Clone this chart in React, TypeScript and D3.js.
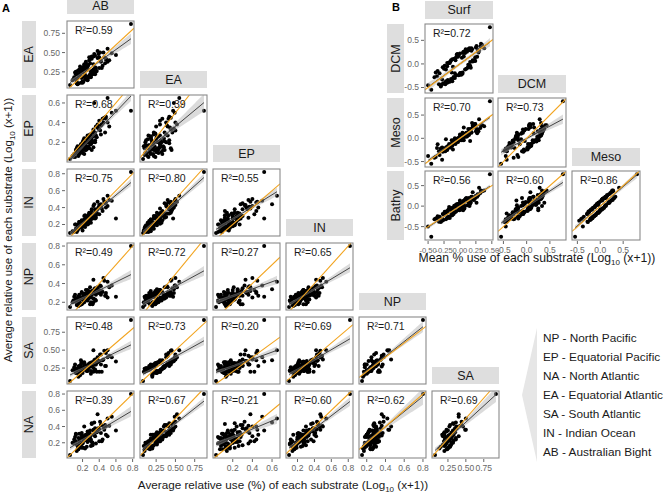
import * as React from 'react';
import * as d3 from 'd3';

// substrate use per ocean region (Log10(x+1)), one value per substrate
const AB = [0.78, 0.05, 0.12, 0.15, 0.18, 0.2, 0.22, 0.25, 0.28, 0.3,
  0.33, 0.35, 0.38, 0.4, 0.42, 0.45, 0.48, 0.5, 0.52, 0.55,
  0.1, 0.13, 0.16, 0.19, 0.21, 0.24, 0.27, 0.29, 0.32, 0.34,
  0.37, 0.39, 0.44, 0.47, 0.11, 0.14, 0.17, 0.2, 0.23, 0.26,
  0.31, 0.36, 0.41, 0.46, 0.08, 0.12, 0.18, 0.22, 0.25, 0.28,
  0.3, 0.33, 0.24, 0.19, 0.15, 0.27, 0.35, 0.43, 0.5, 0.09,
  0.21, 0.26, 0.32, 0.38, 0.16, 0.23, 0.29, 0.31, 0.2, 0.14,
  0.34, 0.6, 0.12, 0.17, 0.22, 0.26, 0.3, 0.15, 0.19, 0.24,
  0.28, 0.33, 0.13, 0.18, 0.21, 0.25, 0.29, 0.36, 0.4, 0.16,
  0.2, 0.23, 0.27, 0.31, 0.35, 0.42, 0.14, 0.22, 0.26, 0.48];
const EA = [0.87, 0.08, 0.22, 0.1, 0.3, 0.12, 0.35, 0.16, 0.4, 0.2,
  0.45, 0.22, 0.52, 0.3, 0.38, 0.5, 0.42, 0.55, 0.4, 0.49,
  0.18, 0.1, 0.26, 0.3, 0.12, 0.36, 0.18, 0.42, 0.22, 0.48,
  0.26, 0.48, 0.33, 0.36, 0.24, 0.09, 0.32, 0.11, 0.34, 0.15,
  0.42, 0.25, 0.5, 0.44, 0.14, 0.25, 0.11, 0.33, 0.18, 0.44,
  0.18, 0.35, 0.38, 0.27, 0.2, 0.19, 0.46, 0.3, 0.38, 0.15,
  0.31, 0.14, 0.26, 0.43, 0.28, 0.15, 0.22, 0.45, 0.12, 0.26,
  0.24, 0.47, 0.16, 0.2, 0.28, 0.32, 0.25, 0.22, 0.17, 0.3,
  0.2, 0.28, 0.12, 0.24, 0.19, 0.27, 0.36, 0.3, 0.44, 0.21,
  0.25, 0.21, 0.34, 0.26, 0.31, 0.39, 0.17, 0.23, 0.29, 0.41];
const EP = [0.52, 0.03, 0.12, 0.07, 0.18, 0.09, 0.24, 0.13, 0.27, 0.18,
  0.33, 0.2, 0.38, 0.42, 0.28, 0.4, 0.46, 0.65, 0.36, 0.5,
  0.08, 0.14, 0.1, 0.16, 0.22, 0.12, 0.25, 0.19, 0.3, 0.6,
  0.25, 0.34, 0.44, 0.3, 0.05, 0.16, 0.1, 0.2, 0.12, 0.27,
  0.22, 0.36, 0.32, 0.45, 0.06, 0.1, 0.17, 0.08, 0.24, 0.14,
  0.26, 0.15, 0.2, 0.11, 0.13, 0.22, 0.3, 0.38, 0.4, 0.05,
  0.16, 0.23, 0.2, 0.35, 0.09, 0.17, 0.28, 0.12, 0.15, 0.11,
  0.29, 0.52, 0.1, 0.14, 0.13, 0.2, 0.23, 0.06, 0.17, 0.15,
  0.2, 0.26, 0.09, 0.12, 0.18, 0.14, 0.21, 0.27, 0.33, 0.08,
  0.12, 0.19, 0.16, 0.25, 0.22, 0.37, 0.1, 0.16, 0.2, 0.44];
const IN = [0.82, 0.1, 0.15, 0.16, 0.22, 0.13, 0.3, 0.24, 0.33, 0.22,
  0.42, 0.27, 0.47, 0.32, 0.44, 0.5, 0.4, 0.54, 0.49, 0.48,
  0.12, 0.14, 0.23, 0.21, 0.19, 0.28, 0.26, 0.33, 0.3, 0.44,
  0.34, 0.4, 0.36, 0.45, 0.2, 0.13, 0.22, 0.18, 0.31, 0.2,
  0.38, 0.28, 0.43, 0.47, 0.12, 0.2, 0.17, 0.25, 0.24, 0.34,
  0.26, 0.31, 0.29, 0.25, 0.15, 0.21, 0.38, 0.39, 0.42, 0.11,
  0.24, 0.22, 0.27, 0.38, 0.23, 0.17, 0.27, 0.36, 0.18, 0.19,
  0.3, 0.27, 0.14, 0.17, 0.26, 0.3, 0.28, 0.2, 0.16, 0.27,
  0.23, 0.32, 0.11, 0.21, 0.2, 0.24, 0.33, 0.31, 0.43, 0.18,
  0.22, 0.2, 0.31, 0.28, 0.34, 0.41, 0.16, 0.21, 0.27, 0.46];
const NP = [0.8, 0.15, 0.2, 0.26, 0.25, 0.23, 0.28, 0.3, 0.3, 0.2,
  0.44, 0.3, 0.36, 0.33, 0.28, 0.46, 0.27, 0.42, 0.36, 0.38,
  0.26, 0.17, 0.22, 0.3, 0.27, 0.24, 0.32, 0.29, 0.18, 0.34,
  0.34, 0.3, 0.31, 0.27, 0.28, 0.2, 0.24, 0.25, 0.26, 0.27,
  0.28, 0.28, 0.38, 0.43, 0.2, 0.21, 0.24, 0.25, 0.29, 0.27,
  0.29, 0.24, 0.28, 0.31, 0.16, 0.27, 0.35, 0.32, 0.25, 0.22,
  0.23, 0.26, 0.3, 0.31, 0.21, 0.24, 0.18, 0.28, 0.24, 0.2,
  0.32, 0.26, 0.24, 0.17, 0.29, 0.22, 0.25, 0.26, 0.18, 0.33,
  0.26, 0.2, 0.22, 0.18, 0.26, 0.23, 0.36, 0.22, 0.31, 0.28,
  0.19, 0.27, 0.24, 0.32, 0.23, 0.37, 0.24, 0.2, 0.33, 0.3];
const SA = [0.92, 0.07, 0.18, 0.24, 0.36, 0.22, 0.27, 0.28, 0.31, 0.17,
  0.5, 0.3, 0.4, 0.2, 0.44, 0.37, 0.28, 0.5, 0.42, 0.4,
  0.26, 0.2, 0.2, 0.33, 0.25, 0.26, 0.3, 0.32, 0.29, 0.36,
  0.2, 0.35, 0.36, 0.28, 0.3, 0.2, 0.23, 0.23, 0.26, 0.25,
  0.32, 0.3, 0.44, 0.49, 0.22, 0.19, 0.21, 0.24, 0.28, 0.3,
  0.27, 0.25, 0.29, 0.33, 0.13, 0.28, 0.37, 0.2, 0.4, 0.22,
  0.23, 0.24, 0.32, 0.33, 0.2, 0.24, 0.3, 0.33, 0.22, 0.18,
  0.32, 0.34, 0.24, 0.15, 0.33, 0.23, 0.21, 0.27, 0.26, 0.22,
  0.27, 0.2, 0.21, 0.3, 0.25, 0.21, 0.27, 0.35, 0.35, 0.28,
  0.18, 0.27, 0.25, 0.32, 0.23, 0.3, 0.23, 0.3, 0.21, 0.46];
const NA = [0.8, 0.05, 0.3, 0.12, 0.26, 0.2, 0.4, 0.15, 0.33, 0.3,
  0.36, 0.28, 0.55, 0.22, 0.42, 0.4, 0.3, 0.5, 0.41, 0.52,
  0.24, 0.1, 0.22, 0.32, 0.14, 0.28, 0.3, 0.35, 0.17, 0.45,
  0.33, 0.38, 0.24, 0.42, 0.27, 0.16, 0.25, 0.2, 0.29, 0.22,
  0.44, 0.19, 0.46, 0.36, 0.2, 0.31, 0.17, 0.26, 0.25, 0.32,
  0.16, 0.35, 0.3, 0.3, 0.13, 0.25, 0.38, 0.22, 0.28, 0.19,
  0.26, 0.21, 0.2, 0.34, 0.31, 0.13, 0.27, 0.43, 0.19, 0.18,
  0.3, 0.35, 0.22, 0.15, 0.23, 0.34, 0.24, 0.26, 0.14, 0.27,
  0.23, 0.3, 0.18, 0.2, 0.24, 0.25, 0.29, 0.33, 0.37, 0.16,
  0.28, 0.24, 0.27, 0.21, 0.36, 0.32, 0.12, 0.27, 0.22, 0.4];

// substrate use per depth layer
const Surf = [0.47, -0.45, -0.5, -0.38, -0.3, -0.25, -0.2, -0.15, -0.1, -0.05,
  0, 0.05, 0.1, 0.15, 0.2, 0.25, 0.3, -0.35, -0.28, -0.22,
  -0.18, -0.12, -0.08, -0.02, 0.02, 0.08, 0.12, 0.18, 0.22, 0.28,
  -0.32, -0.26, -0.2, -0.14, -0.06, 0.04, 0.14, 0.24, -0.24, -0.16,
  -0.1, 0, 0.06, 0.16, 0.26, -0.4, -0.3, -0.18, -0.08, 0.1,
  0.2, 0.32, -0.12, -0.04, 0.08, 0.18, -0.22, -0.14, 0.03, 0.13,
  0.35, -0.27, -0.19, -0.01, 0.11, 0.23, -0.09, 0.07, 0.17, -0.33,
  0.38, 0.01, -0.2, -0.1, 0.05, 0.15, -0.28, -0.16, -0.06, 0.09,
  0.19, 0.27, -0.36, -0.23, -0.13, -0.03, 0.04, 0.14, 0.21, -0.17,
  -0.07, 0, 0.12, 0.24, -0.11, -0.02, 0.06, 0.16, 0.29, 0.33];
const DCM = [0.78, -0.55, -0.45, -0.18, -0.45, -0.1, -0.4, 0.05, -0.28, 0.2,
  -0.22, 0.25, -0.1, 0.33, 0.08, 0.35, 0.28, -0.15, -0.43, -0.12,
  -0.38, 0.1, -0.2, 0.18, -0.23, 0.23, -0.08, 0.33, 0.07, 0.3,
  -0.2, -0.41, 0.02, -0.32, 0.14, -0.18, 0.32, 0.14, -0.04, -0.38,
  -0.28, 0.22, 0.16, -0.04, 0.38, -0.28, -0.48, 0.02, -0.3, 0.28,
  0.05, 0.37, -0.37, 0.21, -0.12, 0.28, -0.37, 0.08, 0.13, -0.02,
  0.4, -0.07, -0.34, -0.23, 0.26, 0.08, 0.11, 0.25, -0.08, -0.43,
  0.33, -0.19, -0.05, -0.3, 0.23, -0.05, -0.33, 0.02, -0.24, 0.31,
  0.31, 0.15, -0.26, -0.43, -0.18, 0.15, -0.21, 0.29, 0.06, 0.03,
  0.08, -0.2, 0.3, 0.06, -0.06, -0.24, 0.26, 0.04, 0.24, 0.43];
const Meso = [0.8, -0.55, -0.38, -0.4, -0.22, -0.28, -0.18, -0.2, -0.09, -0.05,
  0.04, 0, 0.12, 0.12, 0.24, 0.15, 0.41, -0.13, -0.46, -0.02,
  -0.16, -0.16, 0, -0.04, 0.05, 0.04, 0.12, 0.12, 0.27, 0.19,
  -0.36, -0.22, -0.24, -0.13, -0.08, 0.08, 0.09, 0.31, -0.26, -0.17,
  -0.04, -0.04, 0.23, -0.06, 0.2, -0.42, -0.27, -0.2, -0.05, 0.04,
  0.27, 0.22, -0.1, -0.07, 0.1, 0.13, -0.2, -0.17, -0.04, 0.2,
  0.28, -0.29, -0.17, 0, 0.04, 0.3, -0.11, 0.04, 0.19, -0.28,
  0.26, 0.03, -0.25, -0.06, 0, 0.17, -0.2, -0.19, -0.01, 0.06,
  0.33, 0.11, -0.21, -0.28, -0.04, -0.08, 0.12, 0.07, 0.26, -0.12,
  -0.12, 0.08, 0.06, 0.3, -0.24, 0.01, -0.04, 0.2, 0.15, 0.28];
const Bathy = [0.78, -0.75, -0.5, -0.3, -0.32, -0.2, -0.28, -0.08, -0.19, 0.03,
  0.14, -0.1, 0.2, 0, 0.34, 0.25, 0.45, -0.25, -0.36, -0.14,
  -0.26, -0.04, -0.1, 0.06, -0.07, 0.16, 0.02, 0.22, 0.15, 0.29,
  -0.26, -0.34, -0.12, -0.23, 0.04, -0.04, 0.19, 0.23, -0.14, -0.29,
  -0.16, 0.08, 0.13, 0.06, 0.08, -0.32, -0.39, -0.08, -0.15, 0.16,
  0.17, 0.32, -0.22, 0.05, 0, 0.23, -0.32, -0.07, 0.06, 0.1,
  0.36, -0.19, -0.29, -0.1, 0.16, 0.2, 0.01, -0.06, 0.09, -0.38,
  0.38, -0.09, -0.15, -0.16, 0.12, 0.07, -0.3, -0.09, -0.13, 0.18,
  0.23, 0.23, -0.31, -0.18, -0.16, 0.04, 0.02, 0.19, 0.16, -0.02,
  -0.02, -0.04, 0.18, 0.2, -0.14, -0.09, 0.08, 0.1, 0.27, 0.38];

const regionsCols = ['AB', 'EA', 'EP', 'IN', 'NP', 'SA'];
const regionsRows = ['EA', 'EP', 'IN', 'NP', 'SA', 'NA'];
const regionData: Record<string, number[]> = { AB, EA, EP, IN, NP, SA, NA };
const regionTicks: Record<string, number[]> = {
  AB: [0.2, 0.4, 0.6, 0.8], EA: [0.25, 0.5, 0.75], EP: [0.2, 0.4, 0.6],
  IN: [0.2, 0.4, 0.6, 0.8], NP: [0.2, 0.4, 0.6, 0.8], SA: [0.25, 0.5, 0.75],
  NA: [0.2, 0.4, 0.6, 0.8],
};
const regionR2 = [
  ['0.59'],
  ['0.68', '0.39'],
  ['0.75', '0.80', '0.55'],
  ['0.49', '0.72', '0.27', '0.65'],
  ['0.48', '0.73', '0.20', '0.69', '0.71'],
  ['0.39', '0.67', '0.21', '0.60', '0.62', '0.69'],
];

const depthCols = ['Surf', 'DCM', 'Meso'];
const depthRows = ['DCM', 'Meso', 'Bathy'];
const depthData: Record<string, number[]> = { Surf, DCM, Meso, Bathy };
const depthTicks: Record<string, number[]> = {
  Surf: [-0.5, -0.25, 0, 0.25, 0.5], DCM: [-0.5, 0, 0.5], Meso: [-0.5, 0, 0.5], Bathy: [-0.5, 0, 0.5],
};
const depthR2 = [['0.72'], ['0.70', '0.73'], ['0.56', '0.60', '0.86']];

const legendLines = [
  'NP - North Pacific', 'EP - Equatorial Pacific', 'NA - North Atlantic',
  'EA - Equatorial Atlantic', 'SA - South Atlantic', 'IN - Indian Ocean', 'AB - Australian Bight',
];

const FONT = "'Liberation Sans', Arial, sans-serif";
const STRIP = '#dedede';
const ORANGE = '#f2a31d';

function padded(v: number[]): [number, number] {
  const [lo, hi] = d3.extent(v) as [number, number];
  const p = (hi - lo) * 0.05;
  return [lo - p, hi + p];
}

function Panel({ xs, ys, x0, y0, w, h, r2, id }: any) {
  const x = d3.scaleLinear().domain(padded(xs)).range([x0, x0 + w]);
  const y = d3.scaleLinear().domain(padded(ys)).range([y0 + h, y0]);

  // least squares fit with 95% band, like geom_smooth(method = "lm")
  const n = xs.length;
  const mx = d3.mean(xs) as number;
  const my = d3.mean(ys) as number;
  let sxx = 0, sxy = 0;
  xs.forEach((v: number, i: number) => { sxx += (v - mx) ** 2; sxy += (v - mx) * (ys[i] - my); });
  const b = sxy / sxx;
  const a = my - b * mx;
  const sse = d3.sum(xs, (v: number, i: number) => (ys[i] - a - b * v) ** 2);
  const s = Math.sqrt(sse / (n - 2));
  const [xmin, xmax] = d3.extent(xs) as [number, number];
  const grid = d3.range(41).map(i => xmin + (xmax - xmin) * i / 40);
  const se = (v: number) => 1.98 * s * Math.sqrt(1 / n + (v - mx) ** 2 / sxx);
  const band = d3.area<number>()
    .x(v => x(v))
    .y0(v => y(a + b * v - se(v)))
    .y1(v => y(a + b * v + se(v)))(grid);

  const xd = x.domain(), yd = y.domain();
  const lo = Math.max(xd[0], yd[0]);
  const hi = Math.min(xd[1], yd[1]);

  return (
    <g>
      <clipPath id={id}><rect x={x0} y={y0} width={w} height={h} /></clipPath>
      <rect x={x0} y={y0} width={w} height={h} fill="#fff" />
      <g clipPath={`url(#${id})`}>
        {xs.map((v: number, i: number) => (
          <circle key={i} cx={x(v)} cy={y(ys[i])} r={2} fill="#000" />
        ))}
        <path d={band as string} fill="#b0b0b0" fillOpacity={0.45} />
        <line x1={x(xmin)} y1={y(a + b * xmin)} x2={x(xmax)} y2={y(a + b * xmax)} stroke="#333" strokeWidth={0.9} />
        <line x1={x(lo)} y1={y(lo)} x2={x(hi)} y2={y(hi)} stroke={ORANGE} strokeWidth={1.1} />
      </g>
      <rect x={x0} y={y0} width={w} height={h} fill="none" stroke="#8a8a8a" strokeWidth={1.1} />
      <text x={x0 + 8} y={y0 + 13} fontSize={10.5} fill="#1a1a1a" fontFamily={FONT}>R²={r2}</text>
    </g>
  );
}

function YAxis({ vals, ticks, fmt, xr, y0, h }: any) {
  const y = d3.scaleLinear().domain(padded(vals)).range([y0 + h, y0]);
  return (
    <g>
      {ticks.map((t: number) => (
        <g key={t}>
          <line x1={xr - 3} x2={xr} y1={y(t)} y2={y(t)} stroke="#666" />
          <text x={xr - 5} y={y(t)} dy="0.35em" textAnchor="end" fontSize={8.5} fill="#666" fontFamily={FONT}>{fmt(t)}</text>
        </g>
      ))}
    </g>
  );
}

function XAxis({ vals, ticks, fmt, x0, w, yb, fs }: any) {
  const x = d3.scaleLinear().domain(padded(vals)).range([x0, x0 + w]);
  return (
    <g>
      {ticks.map((t: number) => (
        <g key={t}>
          <line x1={x(t)} x2={x(t)} y1={yb} y2={yb + 3} stroke="#666" />
          <text x={x(t)} y={yb + 12} textAnchor="middle" fontSize={fs || 8.5} fill="#666" fontFamily={FONT}>{fmt(t)}</text>
        </g>
      ))}
    </g>
  );
}

const fmtA = (name: string) => (t: number) => regionTicks[name].length === 3 && name !== 'EP' ? t.toFixed(2) : t.toFixed(1);
const fmtB = (name: string) => (t: number) => name === 'Surf' ? t.toFixed(2) : t.toFixed(1);

export default function App() {
  const aCol = (c: number) => 67 + 73 * c;
  const aRow = (r: number) => 21 + 74 * r;
  const aW = 67, aH = 67;
  const bCol = [425, 498, 572];
  const bRow = [24, 98, 171];
  const bW = 68, bH = 69;

  return (
    <svg width={666} height={493} style={{ position: 'absolute', left: 0, top: 0 }} fontFamily={FONT}>
      <rect width={666} height={493} fill="#fff" />
      <text x={2} y={12} fontSize={11} fontWeight="bold">A</text>
      <text x={392} y={11} fontSize={11} fontWeight="bold">B</text>

      {/* panel A */}
      {regionsCols.map((c, ci) => (
        <g key={'sa' + c}>
          <rect x={aCol(ci)} y={aRow(ci) - 24} width={aW} height={17} fill={STRIP} />
          <text x={aCol(ci) + aW / 2} y={aRow(ci) - 15.5} dy="0.35em" textAnchor="middle" fontSize={12.5} fill="#1a1a1a">{c}</text>
        </g>
      ))}
      {regionsRows.map((r, ri) => (
        <g key={'ra' + r}>
          <rect x={22} y={aRow(ri)} width={14} height={aH} fill={STRIP} />
          <text transform={`translate(29,${aRow(ri) + aH / 2}) rotate(-90)`} dy="0.35em" textAnchor="middle" fontSize={12.5} fill="#1a1a1a">{r}</text>
          <YAxis vals={regionData[r]} ticks={regionTicks[r]} fmt={fmtA(r)} xr={65} y0={aRow(ri)} h={aH} />
          {regionsCols.slice(0, ri + 1).map((c, ci) => (
            <Panel key={c} id={`a${ri}${ci}`} xs={regionData[c]} ys={regionData[r]}
              x0={aCol(ci)} y0={aRow(ri)} w={aW} h={aH} r2={regionR2[ri][ci]} />
          ))}
        </g>
      ))}
      {regionsCols.map((c, ci) => (
        <XAxis key={'xa' + c} vals={regionData[c]} ticks={regionTicks[c]} fmt={fmtA(c)} x0={aCol(ci)} w={aW} yb={aRow(5) + aH + 1} />
      ))}
      <text x={283} y={489} textAnchor="middle" fontSize={11.7} fill="#1a1a1a">
        Average relative use (%) of each substrate (Log<tspan fontSize={8} dy={3}>10</tspan><tspan dy={-3}> (x+1))</tspan>
      </text>
      <text transform="translate(12,230) rotate(-90)" textAnchor="middle" fontSize={11.5} fill="#1a1a1a">
        Average relative use of each substrate (Log<tspan fontSize={8} dy={3}>10</tspan><tspan dy={-3}> (x+1))</tspan>
      </text>

      {/* panel B */}
      {depthCols.map((c, ci) => (
        <g key={'sb' + c}>
          <rect x={bCol[ci]} y={bRow[ci] - 23} width={bW} height={18} fill={STRIP} />
          <text x={bCol[ci] + bW / 2} y={bRow[ci] - 14} dy="0.35em" textAnchor="middle" fontSize={12.5} fill="#1a1a1a">{c}</text>
        </g>
      ))}
      {depthRows.map((r, ri) => (
        <g key={'rb' + r}>
          <rect x={387} y={bRow[ri]} width={17} height={bH} fill={STRIP} />
          <text transform={`translate(395.5,${bRow[ri] + bH / 2}) rotate(-90)`} dy="0.35em" textAnchor="middle" fontSize={12.5} fill="#1a1a1a">{r}</text>
          <YAxis vals={depthData[r]} ticks={depthTicks[r]} fmt={fmtB(r)} xr={424} y0={bRow[ri]} h={bH} />
          {depthCols.slice(0, ri + 1).map((c, ci) => (
            <Panel key={c} id={`b${ri}${ci}`} xs={depthData[c]} ys={depthData[r]}
              x0={bCol[ci]} y0={bRow[ri]} w={bW} h={bH} r2={depthR2[ri][ci]} />
          ))}
        </g>
      ))}
      {depthCols.map((c, ci) => (
        <XAxis key={'xb' + c} vals={depthData[c]} ticks={depthTicks[c]} fmt={fmtB(c)} x0={bCol[ci]} w={bW}
          yb={bRow[2] + bH + 1} fs={c === 'Surf' ? 7.6 : 8.5} />
      ))}
      <text x={537} y={262} textAnchor="middle" fontSize={12.2} fill="#1a1a1a">
        Mean % use of each substrate (Log<tspan fontSize={8} dy={3}>10</tspan><tspan dy={-3}> (x+1))</tspan>
      </text>

      {/* legend */}
      <polygon points="537,328 537,462 522,395" fill="#e6e6e6" />
      {legendLines.map((l, i) => (
        <text key={l} x={543} y={338 + i * 18.9} dy="0.35em" fontSize={11.8} fill="#1a1a1a">{l}</text>
      ))}
    </svg>
  );
}
